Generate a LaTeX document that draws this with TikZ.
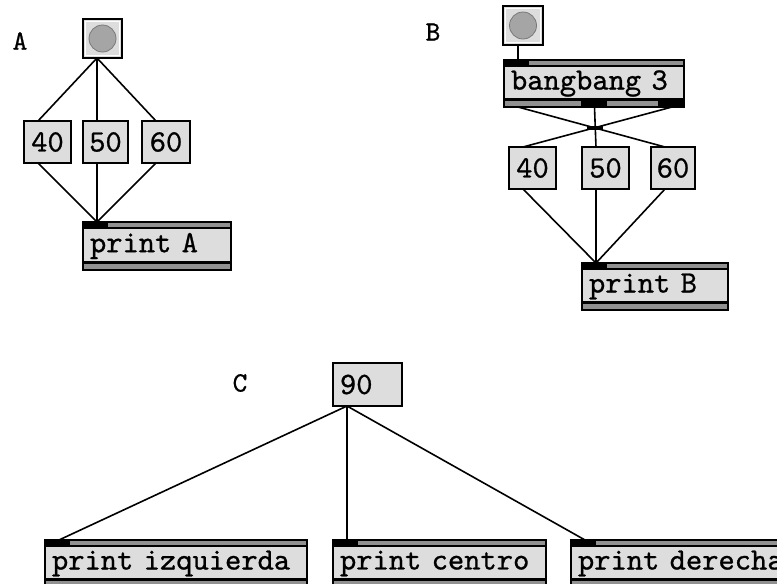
\documentclass[tikz,border=0pt]{standalone}
\usepackage{fontspec}
\newfontfamily\patchmono{lmmono10-regular}[Extension=.otf, FakeBold=0.8]
\definecolor{boxfill}{RGB}{221,221,221}
\definecolor{bandgray}{RGB}{145,145,145}
\definecolor{dotgray}{RGB}{165,165,165}
\definecolor{dotrim}{RGB}{120,120,120}

\tikzset{
  maxfont/.style={font=\fontsize{31}{36}\selectfont\patchmono},
  numbox/.style={draw, line width=2pt, fill=boxfill, anchor=north west,
    inner sep=0pt, outer sep=0pt, maxfont},
  objbox/.style={draw, line width=2pt, fill=boxfill, anchor=north west,
    inner ysep=0pt, inner xsep=7pt, outer sep=0pt, align=left, maxfont},
  bangbox/.style={draw, line width=2pt, fill=boxfill, anchor=north west,
    inner sep=0pt, outer sep=0pt},
  patchcord/.style={line width=1.6pt, black},
  sectionlabel/.style={font=\fontsize{28}{30}\selectfont\patchmono, inner sep=0pt},
}

% Max object box: name, left, top, width, height, text
\newcommand\maxobj[6]{%
  \pgfmathsetmacro\objtw{#4-14}%
  \node[objbox, minimum width=#4pt, minimum height=#5pt, text width=\objtw pt] (#1) at (#2,#3) {#6};
  % top band
  \fill[bandgray] (#2+1,#3+1) rectangle (#2+#4-1,#3+4.5);
  \fill[black] (#2+1,#3+4.5) rectangle (#2+#4-1,#3+7);
  % bottom band
  \fill[black] (#2+1,#3+#5-9) rectangle (#2+#4-1,#3+#5-6.5);
  \fill[bandgray] (#2+1,#3+#5-6.5) rectangle (#2+#4-1,#3+#5-1);
  % left inlet
  \fill[black] (#2-1,#3-1) rectangle (#2+25,#3+7);
}

% bang button: name, left, top, width, height
\newcommand\maxbang[5]{%
  \node[bangbox, minimum width=#4pt, minimum height=#5pt] (#1) at (#2,#3) {};
  \draw[white, line width=1.5pt] (#2+2.5,#3+2.5) rectangle (#2+#4-2.5,#3+#5-2.5);
  \fill[dotgray, draw=dotrim, line width=0.8pt] (#1.center) circle (13.5);
}

\begin{document}
\begin{tikzpicture}[x=1pt,y=-1pt]
\useasboundingbox (0,0) rectangle (777,584);
\clip (0,0) rectangle (777,584);
\fill[white] (0,0) rectangle (777,584);

% ---------- A: one bang fanned out to three numbers ----------
\node[sectionlabel] (labA) at (20,41) {A};
\maxbang{bangA}{83}{19}{39}{39}
\node[numbox, minimum width=47pt, minimum height=42pt] (numA40) at (24,121) {40};
\node[numbox, minimum width=45pt, minimum height=42pt] (numA50) at (83,121) {50};
\node[numbox, minimum width=48pt, minimum height=42pt] (numA60) at (142,121) {60};
\maxobj{printA}{83}{222}{148}{48}{print A}

\foreach \n in {numA40,numA50,numA60}{
  \draw[patchcord] ([xshift=14pt]bangA.south west) -- ([xshift=14pt]\n.north west);
  \draw[patchcord] ([xshift=14pt]\n.south west) -- ([xshift=14pt]printA.north west);
}

% ---------- B: ordered output through bangbang ----------
\node[sectionlabel] (labB) at (433,32) {B};
\maxbang{bangB}{503}{6}{40}{39}
\maxobj{bangbang}{504}{60}{180}{47}{bangbang 3}
% extra outlets of bangbang
\fill[black] (581,98) rectangle (607,108);
\fill[black] (658,98) rectangle (685,108);
\node[numbox, minimum width=47pt, minimum height=42pt] (numB40) at (509,147) {40};
\node[numbox, minimum width=47pt, minimum height=42pt] (numB50) at (582,147) {50};
\node[numbox, minimum width=44pt, minimum height=42pt] (numB60) at (651,147) {60};
\maxobj{printB}{582}{263}{146}{47}{print B}

\draw[patchcord] ([xshift=15pt]bangB.south west) -- ([xshift=14pt]bangbang.north west);
\draw[patchcord] ([xshift=14pt]bangbang.south west) -- ([xshift=14pt]numB60.north west);
\draw[patchcord] ([xshift=-12pt]bangbang.south east) -- ([xshift=14pt]numB40.north west);
\draw[patchcord] ([xshift=90.5pt]bangbang.south west) -- ([xshift=14pt]numB50.north west);
\coordinate (cross) at (595,127.5);
\fill[black] ([xshift=-8pt,yshift=2pt]cross) rectangle ([xshift=8pt,yshift=-2pt]cross);
\foreach \n in {numB40,numB50,numB60}{
  \draw[patchcord] ([xshift=14pt]\n.south west) -- ([xshift=14pt]printB.north west);
}

% ---------- C: one number to three printers ----------
\node[sectionlabel] (labC) at (240,383) {C};
\node[objbox, minimum width=69pt, minimum height=43pt, text width=55pt] (numC90) at (333,363) {90};
\maxobj{printL}{45}{540}{262}{47}{print izquierda}
\maxobj{printM}{333}{540}{213}{47}{print centro}
\maxobj{printR}{571}{540}{240}{47}{print derecha}

\foreach \n in {printL,printM,printR}{
  \draw[patchcord] ([xshift=14pt]numC90.south west) -- ([xshift=14pt]\n.north west);
}
\end{tikzpicture}
\end{document}
